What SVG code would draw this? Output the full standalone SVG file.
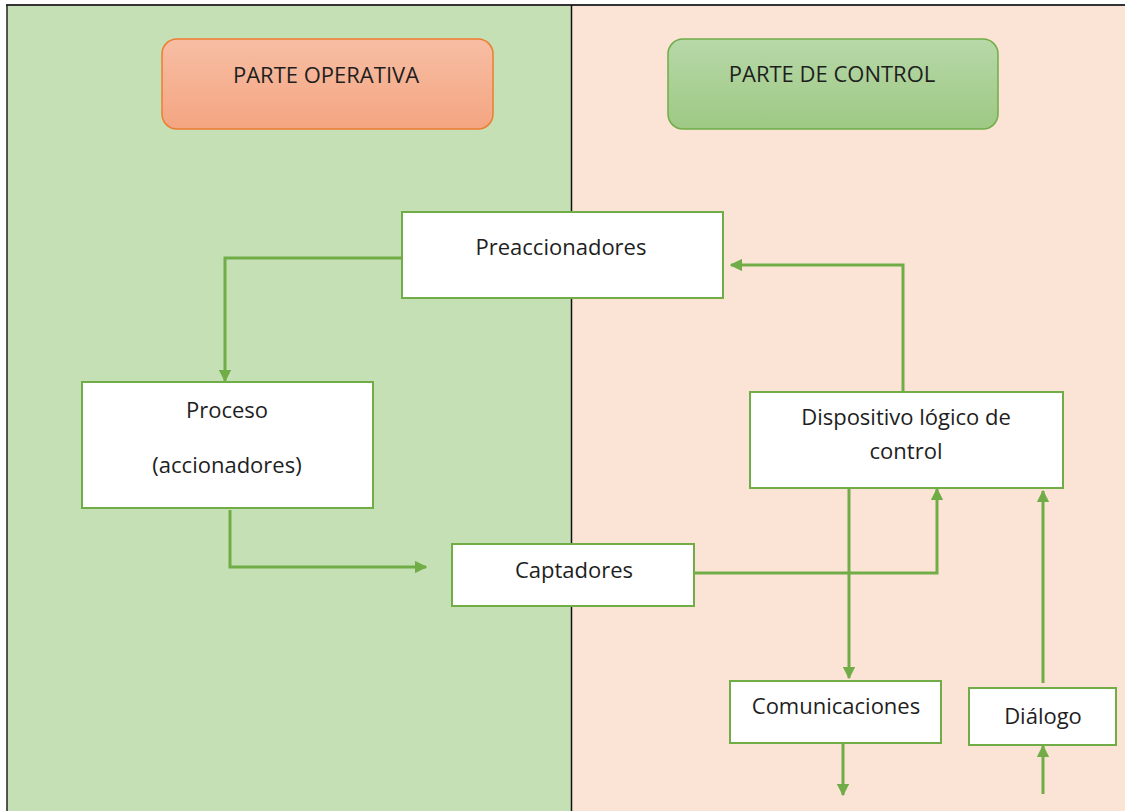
<svg xmlns="http://www.w3.org/2000/svg" width="1125" height="811" viewBox="0 0 1125 811">
<style>
  .box { fill: #ffffff; stroke: #70ad47; stroke-width: 2; }
  .lbl { font-family: "Open Sans", "Liberation Sans", sans-serif; font-size: 22px; fill: #1e1e1e; text-anchor: middle; }
  .conn { fill: none; stroke: #70ad47; stroke-width: 3; }
</style>
<defs>
  <linearGradient id="gOrange" x1="0" y1="0" x2="0" y2="1">
    <stop offset="0" stop-color="#f7bea4"/>
    <stop offset="1" stop-color="#f4a581"/>
  </linearGradient>
  <linearGradient id="gGreen" x1="0" y1="0" x2="0" y2="1">
    <stop offset="0" stop-color="#b7d8a8"/>
    <stop offset="1" stop-color="#9ec984"/>
  </linearGradient>
  <marker id="arr" viewBox="0 0 10 10" refX="9" refY="5" markerWidth="4.2" markerHeight="4.2" orient="auto" markerUnits="strokeWidth">
    <path d="M0,0 L10,5 L0,10 Z" fill="#70ad47"/>
  </marker>
</defs>
<rect width="1125" height="811" fill="#ffffff"/>
<g id="panels">
  <rect x="7" y="5" width="565" height="806" fill="#c5e0b4"/>
  <rect x="572" y="5" width="553" height="806" fill="#fbe3d6"/>
  <line x1="6" y1="5" x2="1125" y2="5" stroke="#333333" stroke-width="2"/>
  <line x1="7" y1="5" x2="7" y2="811" stroke="#222222" stroke-width="1.5"/>
  <line x1="571.5" y1="5" x2="571.5" y2="811" stroke="#111111" stroke-width="1.5"/>
</g>
<g id="parte-operativa">
  <rect x="162" y="39" width="331" height="90" rx="15" fill="url(#gOrange)" stroke="#ed7d31" stroke-width="1.5"/>
  <text class="lbl" x="326" y="83">PARTE OPERATIVA</text>
</g>
<g id="parte-control">
  <rect x="668" y="39" width="330" height="90" rx="15" fill="url(#gGreen)" stroke="#70ad47" stroke-width="1.5"/>
  <text class="lbl" x="832" y="82">PARTE DE CONTROL</text>
</g>
<g id="connectors">
  <polyline class="conn" points="402,258 225,258 225,381" marker-end="url(#arr)"/>
  <polyline class="conn" points="230,510 230,567 426,567" marker-end="url(#arr)"/>
  <polyline class="conn" points="694,573 937,573 937,489" marker-end="url(#arr)"/>
  <polyline class="conn" points="903,392 903,265 731,265" marker-end="url(#arr)"/>
  <polyline class="conn" points="849,488 849,678" marker-end="url(#arr)"/>
  <polyline class="conn" points="843,743 843,795" marker-end="url(#arr)"/>
  <polyline class="conn" points="1043,683 1043,491" marker-end="url(#arr)"/>
  <polyline class="conn" points="1043,794 1043,746" marker-end="url(#arr)"/>
</g>
<g id="preaccionadores">
  <rect class="box" x="402" y="212" width="321" height="86"/>
  <text class="lbl" x="561" y="255">Preaccionadores</text>
</g>
<g id="proceso">
  <rect class="box" x="82" y="382" width="291" height="126"/>
  <text class="lbl" x="227" y="418">Proceso</text>
  <text class="lbl" x="227" y="473">(accionadores)</text>
</g>
<g id="captadores">
  <rect class="box" x="452" y="544" width="242" height="62"/>
  <text class="lbl" x="574" y="578">Captadores</text>
</g>
<g id="dispositivo">
  <rect class="box" x="750" y="392" width="313" height="96"/>
  <text class="lbl" x="906" y="425">Dispositivo lógico de</text>
  <text class="lbl" x="906" y="459">control</text>
</g>
<g id="comunicaciones">
  <rect class="box" x="730" y="681" width="211" height="62"/>
  <text class="lbl" x="836" y="714">Comunicaciones</text>
</g>
<g id="dialogo">
  <rect class="box" x="969" y="688" width="147" height="57"/>
  <text class="lbl" x="1043" y="724">Diálogo</text>
</g>
</svg>
